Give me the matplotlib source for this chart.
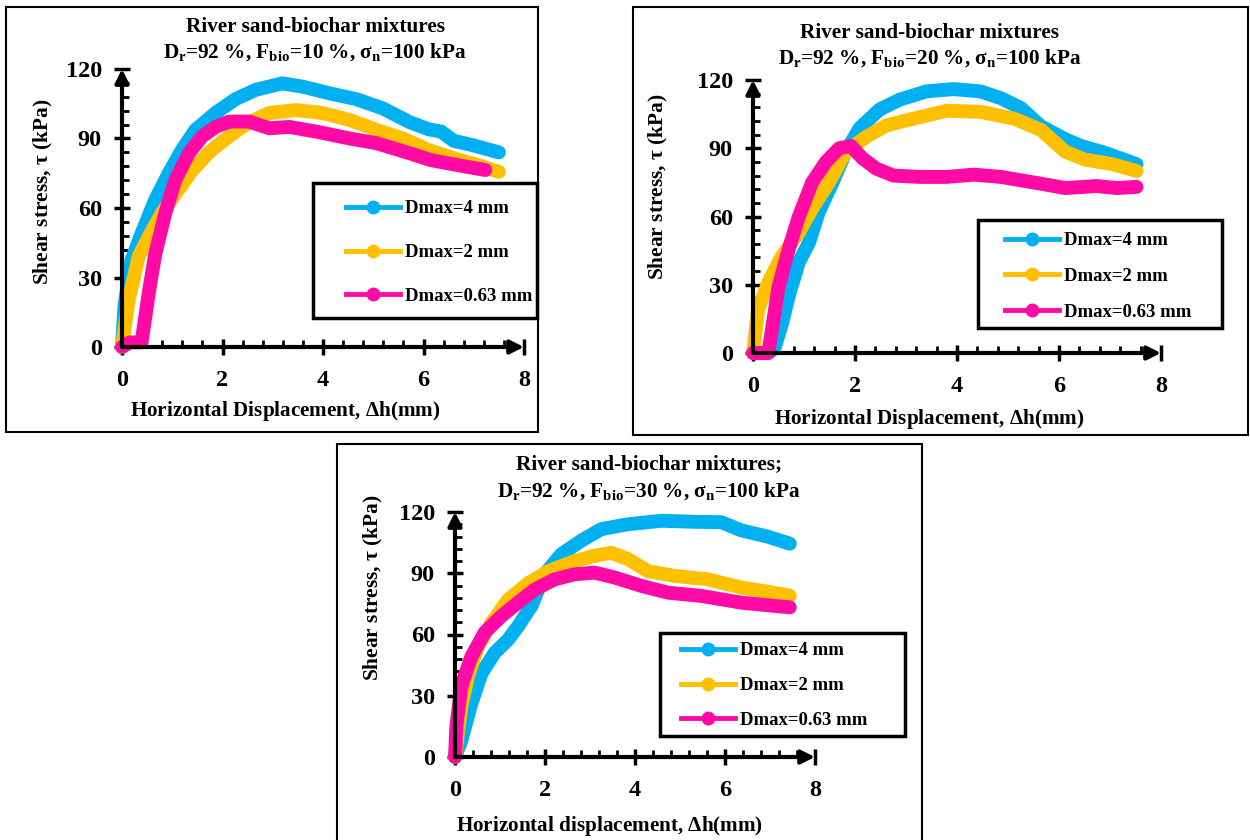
import numpy as np
import matplotlib
matplotlib.use("Agg")
from matplotlib import pyplot as plt
from matplotlib.patches import Rectangle
from matplotlib.lines import Line2D

plt.rcParams['font.family'] = ['Liberation Serif', 'DejaVu Serif']
plt.rcParams['font.weight'] = 'bold'
plt.rcParams['mathtext.fontset'] = 'custom'
plt.rcParams['mathtext.rm'] = 'Liberation Serif:bold'
plt.rcParams['mathtext.it'] = 'Liberation Serif:bold'
plt.rcParams['mathtext.bf'] = 'Liberation Serif:bold'

labels = ['Dmax=4 mm', 'Dmax=2 mm', 'Dmax=0.63 mm']
colors = ['#00B0F0', '#FFC000', '#FF0AA5']

# ---- F_bio = 10 %
x10_d4 = [0, 0.05, 0.19, 0.39, 0.66, 0.93, 1.19, 1.46, 1.86, 2.26, 2.66, 3.19, 3.59, 4.13, 4.66, 5.19, 5.73, 6.1, 6.35, 6.6, 7.0, 7.5]
y10_d4 = [0, 18, 37.5, 49, 63.5, 75, 85, 93.7, 101, 107, 111, 113.8, 112.4, 109.5, 107, 103, 97, 94, 93, 89, 87, 84]
x10_d2 = [0, 0.13, 0.33, 0.53, 0.79, 1.06, 1.39, 1.73, 1.99, 2.26, 2.53, 2.93, 3.46, 3.99, 4.53, 5.06, 5.59, 6.1, 6.6, 7.16, 7.5]
y10_d2 = [0, 20, 39, 47.6, 57.7, 66, 76, 84, 88.6, 93, 97, 101, 102.3, 101, 98, 93.7, 90, 85, 81.5, 78, 75.6]
x10_d063 = [0, 0.15, 0.39, 0.53, 0.66, 0.86, 1.06, 1.33, 1.59, 1.86, 2.13, 2.53, 2.93, 3.33, 3.86, 4.53, 5.06, 5.73, 6.14, 6.68, 7.23]
y10_d063 = [0, 2, 2, 23, 40, 57.7, 72, 83.6, 90.8, 95, 97.3, 97.3, 94.4, 95, 93, 90, 88, 83.6, 80.7, 78.5, 76.4]

# ---- F_bio = 20 %
x20_d4 = [0, 0.3, 0.42, 0.57, 0.7, 0.9, 1.1, 1.29, 1.56, 1.82, 2.09, 2.48, 2.88, 3.4, 3.93, 4.46, 4.86, 5.25, 5.65, 6.12, 6.43, 6.9, 7.52]
y20_d4 = [0, 0, 2, 13, 25, 40, 48.6, 62, 75, 88.5, 98.8, 107, 111.4, 115, 116, 115, 112, 107.7, 99.6, 94, 91, 88, 83]
x20_d2 = [0, 0.1, 0.3, 0.57, 0.9, 1.16, 1.49, 1.82, 2.22, 2.61, 3.14, 3.8, 4.46, 5.12, 5.65, 6.12, 6.51, 7.05, 7.52]
y20_d2 = [0, 19, 31, 42.7, 53, 63.4, 75, 88.5, 95, 100, 103, 106.5, 106, 103, 98, 88.5, 85, 83, 80]
x20_d063 = [0, 0.3, 0.37, 0.5, 0.7, 0.9, 1.16, 1.43, 1.69, 1.92, 2.15, 2.42, 2.75, 3.27, 3.8, 4.33, 4.86, 5.65, 6.12, 6.74, 7.13, 7.52]
y20_d063 = [0, 0, 10, 29, 45.6, 60, 75, 84, 90, 91, 85.5, 81, 78, 77.4, 77.4, 78.4, 77.4, 74.4, 72.5, 73.4, 72.5, 73]

# ---- F_bio = 30 %
x30_d4 = [0, 0.14, 0.36, 0.59, 0.88, 1.18, 1.4, 1.7, 1.99, 2.36, 2.81, 3.25, 3.84, 4.59, 5.33, 5.92, 6.36, 6.94, 7.44]
y30_d4 = [0, 8, 26, 41, 51, 57.5, 64, 74, 89.5, 99.3, 106, 111.6, 114, 115.7, 115.2, 115, 111, 108, 104.5]
x30_d2 = [0, 0.14, 0.29, 0.51, 0.81, 1.18, 1.62, 2.07, 2.66, 3.1, 3.47, 3.84, 4.29, 4.88, 5.62, 6.36, 6.94, 7.44]
y30_d2 = [0, 24.7, 39.5, 54, 65.7, 77, 85, 91, 96, 98.5, 100, 97, 91, 88.7, 87, 83, 81, 79]
x30_d063 = [0, 0.03, 0.14, 0.36, 0.66, 1.03, 1.4, 1.77, 2.21, 2.66, 3.1, 3.55, 4.14, 4.73, 5.47, 6.36, 7.44]
y30_d063 = [0, 15, 34.6, 49, 61, 69, 75.6, 82, 87, 89.5, 90.3, 87.9, 83.8, 80.5, 78.9, 75.6, 73.3]

W, H = 1250, 840
fig = plt.figure(figsize=(W / 100, H / 100), dpi=100)


def fx(px):
    return px / W


def fy(py):
    return 1 - py / H


def panel(x0, x8, y0, y120, series, title2, xlabel, title1,
          tcx, t1y, t2y, ylx, yly, xlx, xly, frame, lbox, lx, ly, lsp):
    ax = fig.add_axes([fx(x0), fy(y0), fx(x8 - x0), (y0 - y120) / H])
    for (xs, ys), c in zip(series, colors):
        ax.plot(xs, ys, color=c, lw=10, solid_capstyle='round',
                solid_joinstyle='round', clip_on=False)
    ax.set_xlim(0, 8)
    ax.set_ylim(0, 120)
    ax.set_xticks([0, 2, 4, 6, 8])
    ax.set_yticks([0, 30, 60, 90, 120])
    ax.set_xticks(np.arange(0, 8.01, 0.4), minor=True)
    ax.set_yticks(np.arange(0, 120.1, 6), minor=True)
    ax.tick_params(which='major', direction='inout', length=11, width=2.5,
                   labelsize=17.5)
    ax.tick_params(axis='x', which='major', pad=11)
    ax.tick_params(axis='y', which='major', pad=9)
    ax.tick_params(which='minor', direction='in', length=5, width=2)
    for s in ax.spines.values():
        s.set_visible(False)
    ax.patch.set_alpha(0)
    ax.annotate('', xy=(1.0, 0), xytext=(0, 0), xycoords='axes fraction',
                arrowprops=dict(arrowstyle='-|>', lw=3, color='black',
                                mutation_scale=20, shrinkA=0, shrinkB=0))
    ax.annotate('', xy=(0, 1.0), xytext=(0, 0), xycoords='axes fraction',
                arrowprops=dict(arrowstyle='-|>', lw=3, color='black',
                                mutation_scale=20, shrinkA=0, shrinkB=0))
    fig.text(fx(tcx), fy(t1y), title1, ha='center', va='center', fontsize=15.3)
    fig.text(fx(tcx), fy(t2y), title2, ha='center', va='center', fontsize=15.3)
    fig.text(fx(ylx), fy(yly), r'Shear stress, $\tau$ (kPa)',
             rotation=90, ha='center', va='center', fontsize=15.4)
    fig.text(fx(xlx), fy(xly), xlabel, ha='center', va='center',
             fontsize=15.2)
    fig.add_artist(Rectangle((fx(frame[0]), fy(frame[3])),
                             fx(frame[2] - frame[0]), (frame[3] - frame[1]) / H,
                             transform=fig.transFigure, fill=False,
                             lw=1.5, ec='black'))
    fig.add_artist(Rectangle((fx(lbox[0]), fy(lbox[3])),
                             fx(lbox[2] - lbox[0]), (lbox[3] - lbox[1]) / H,
                             transform=fig.transFigure, fill=False,
                             lw=2.5, ec='black'))
    handles = [Line2D([], [], color=c, lw=3.5, marker='o', markersize=9)
               for c in colors]
    fig.legend(handles, labels, loc='upper left',
               bbox_to_anchor=(fx(lx), fy(ly)), bbox_transform=fig.transFigure,
               frameon=False, borderpad=0, borderaxespad=0, handlelength=2.9,
               handletextpad=0.25, labelspacing=lsp, fontsize=13.5)
    return ax


panel(122, 524, 347, 69,
      [(x10_d4, y10_d4), (x10_d2, y10_d2), (x10_d063, y10_d063)],
      r'D$_r$=92 %, F$_{bio}$=10 %, $\sigma_n$=100 kPa',
      r'Horizontal Displacement, $\Delta$h(mm)',
      'River sand-biochar mixtures', 315, 27, 52, 43, 192, 285, 411,
      (6, 7, 538, 432), (313, 183, 537, 318), 346, 200, 1.43)

panel(753, 1161, 353, 80,
      [(x20_d4, y20_d4), (x20_d2, y20_d2), (x20_d063, y20_d063)],
      r'D$_r$=92 %, F$_{bio}$=20 %, $\sigma_n$=100 kPa',
      r'Horizontal Displacement, $\Delta$h(mm)',
      'River sand-biochar mixtures', 930, 33, 58, 658, 187, 929, 419,
      (633, 7, 1248, 435), (978, 220, 1222, 328), 1005, 232, 1.0)

panel(455, 815, 757, 512,
      [(x30_d4, y30_d4), (x30_d2, y30_d2), (x30_d063, y30_d063)],
      r'D$_r$=92 %, F$_{bio}$=30 %, $\sigma_n$=100 kPa',
      r'Horizontal displacement, $\Delta$h(mm)',
      'River sand-biochar mixtures;', 649, 464, 491, 373, 588, 610, 826,
      (337, 444, 922, 842), (660, 633, 905, 736), 681, 642, 0.95)

fig.savefig('out.png', dpi=100)
